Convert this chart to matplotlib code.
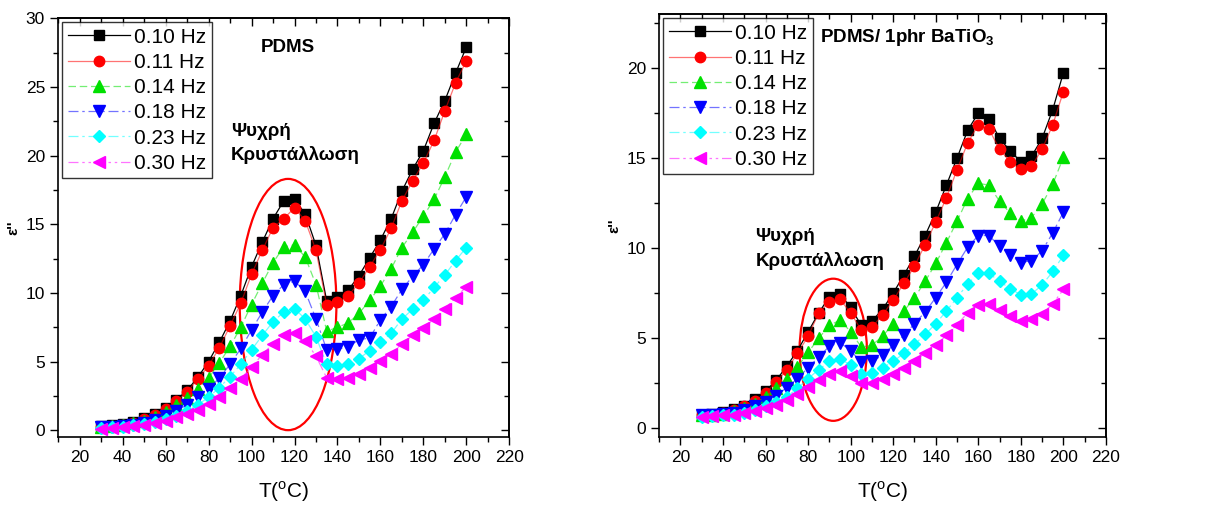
import matplotlib.pyplot as plt
from matplotlib.patches import Ellipse
from matplotlib.ticker import MultipleLocator
from matplotlib.colors import to_rgba

plt.rcParams['font.family'] = ['Liberation Sans', 'DejaVu Sans']
plt.rcParams['mathtext.fontset'] = 'custom'
plt.rcParams['mathtext.rm'] = 'Liberation Sans'
plt.rcParams['mathtext.bf'] = 'Liberation Sans:bold'

# temperatures (°C)
T = [30, 35, 40, 45, 50, 55, 60, 65, 70, 75, 80, 85, 90, 95, 100, 105, 110, 115,
     120, 125, 130, 135, 140, 145, 150, 155, 160, 165, 170, 175, 180, 185, 190, 195, 200]

freq_labels = ['0.10 Hz', '0.11 Hz', '0.14 Hz', '0.18 Hz', '0.23 Hz', '0.30 Hz']

# PDMS
pdms_010 = [0.3, 0.35, 0.45, 0.6, 0.9, 1.2, 1.65, 2.2, 2.9, 3.85, 5.0, 6.4, 7.95, 9.8, 11.9, 13.7,
            15.4, 16.7, 16.8, 15.75, 13.45, 9.4, 9.7, 10.2, 11.25, 12.55, 13.85, 15.4, 17.4, 19.0,
            20.35, 22.35, 24.0, 26.0, 27.9]
pdms_011 = [0.25, 0.3, 0.4, 0.55, 0.8, 1.1, 1.55, 2.1, 2.8, 3.7, 4.7, 6.0, 7.6, 9.25, 11.35, 13.1,
            14.75, 15.4, 16.2, 15.25, 13.1, 9.1, 9.3, 9.8, 10.7, 11.9, 13.15, 14.7, 16.7, 18.15,
            19.45, 21.1, 23.25, 25.3, 26.9]
pdms_014 = [0.2, 0.3, 0.35, 0.5, 0.7, 0.95, 1.35, 1.8, 2.35, 3.0, 3.8, 4.9, 6.1, 7.5, 9.15, 10.7,
            12.2, 13.35, 13.5, 12.6, 10.6, 7.2, 7.5, 7.8, 8.5, 9.45, 10.5, 11.75, 13.3, 14.4,
            15.6, 16.8, 18.45, 20.25, 21.55]
pdms_018 = [0.2, 0.25, 0.3, 0.4, 0.55, 0.75, 1.0, 1.4, 1.85, 2.4, 3.0, 3.8, 4.8, 5.95, 7.3, 8.6,
            9.8, 10.6, 10.85, 10.1, 8.1, 5.85, 5.9, 6.05, 6.6, 6.7, 8.05, 9.0, 10.25, 11.2,
            12.05, 13.2, 14.3, 15.7, 17.0]
pdms_023 = [0.15, 0.2, 0.25, 0.35, 0.45, 0.6, 0.8, 1.05, 1.4, 1.85, 2.4, 3.1, 3.9, 4.8, 5.85, 6.9,
            7.9, 8.6, 8.85, 8.1, 6.8, 4.8, 4.65, 4.8, 5.2, 5.8, 6.4, 7.05, 8.1, 8.8,
            9.45, 10.4, 11.3, 12.35, 13.3]
pdms_030 = [0.1, 0.15, 0.2, 0.3, 0.4, 0.55, 0.7, 0.95, 1.2, 1.5, 1.9, 2.45, 3.1, 3.75, 4.6, 5.5,
            6.3, 6.95, 7.1, 6.5, 5.4, 3.8, 3.7, 3.8, 4.1, 4.55, 5.05, 5.55, 6.3, 6.9,
            7.45, 8.1, 8.85, 9.65, 10.45]

# PDMS / 1phr BaTiO3
bto_010 = [0.75, 0.8, 0.9, 1.05, 1.25, 1.6, 2.05, 2.65, 3.45, 4.3, 5.35, 6.4, 7.3, 7.45, 6.7, 5.7,
           5.95, 6.6, 7.5, 8.5, 9.55, 10.7, 12.0, 13.5, 15.0, 16.55, 17.5, 17.2, 16.1, 15.4,
           14.8, 15.1, 16.1, 17.7, 19.75]
bto_011 = [0.7, 0.75, 0.85, 1.0, 1.2, 1.5, 1.95, 2.55, 3.25, 4.15, 5.1, 6.4, 7.0, 7.15, 6.4, 5.45,
           5.6, 6.3, 7.1, 8.05, 9.0, 10.2, 11.45, 12.8, 14.35, 15.85, 16.85, 16.6, 15.5, 14.8,
           14.4, 14.55, 15.5, 16.85, 18.7]
bto_014 = [0.7, 0.75, 0.8, 0.95, 1.1, 1.35, 1.75, 2.2, 2.75, 3.4, 4.2, 5.0, 5.7, 6.0, 5.35, 4.5,
           4.6, 5.1, 5.8, 6.5, 7.25, 8.15, 9.15, 10.3, 11.5, 12.75, 13.6, 13.5, 12.6, 11.95,
           11.5, 11.7, 12.45, 13.55, 15.05]
bto_018 = [0.75, 0.75, 0.8, 0.85, 1.0, 1.2, 1.45, 1.8, 2.25, 2.75, 3.35, 3.95, 4.55, 4.75, 4.3, 3.65,
           3.7, 4.05, 4.6, 5.15, 5.8, 6.45, 7.25, 8.1, 9.1, 10.05, 10.7, 10.7, 10.1, 9.6,
           9.2, 9.3, 9.85, 10.85, 12.0]
bto_023 = [0.6, 0.65, 0.7, 0.75, 0.85, 1.0, 1.2, 1.45, 1.75, 2.2, 2.75, 3.25, 3.7, 3.85, 3.5, 3.0,
           3.05, 3.35, 3.7, 4.15, 4.65, 5.2, 5.8, 6.5, 7.25, 8.0, 8.6, 8.6, 8.15, 7.75,
           7.4, 7.45, 7.95, 8.7, 9.6]
bto_030 = [0.6, 0.65, 0.7, 0.75, 0.85, 0.95, 1.1, 1.3, 1.55, 1.9, 2.3, 2.65, 3.0, 3.15, 2.9, 2.5,
           2.5, 2.7, 3.0, 3.35, 3.75, 4.15, 4.6, 5.15, 5.75, 6.4, 6.85, 6.9, 6.55, 6.2,
           5.95, 6.05, 6.35, 6.9, 7.7]

colors = ['#000000', '#FF0000', '#00E000', '#0000FF', '#00FFFF', '#FF00FF']
markers = ['s', 'o', '^', 'v', 'D', '<']
msizes = [6.5, 7.5, 8.5, 8.5, 6.5, 8.5]
lstyles = ['-', '-', (0, (6, 3)), (0, (8, 3, 2, 3)), (0, (8, 3, 2, 3)), (0, (8, 3, 2, 3, 2, 3))]


def draw(ax, series, ylim, yticks, title, title_xy, note_xy, ell):
    for s, c, m, ms, ls, lab in zip(series, colors, markers, msizes, lstyles, freq_labels):
        ax.plot(T, s, color=to_rgba(c, 1.0 if c == '#000000' else 0.55), lw=0.9, ls=ls,
                marker=m, ms=ms, mfc=c, mec=c, label=lab)
    ax.set_xlim(10, 220)
    ax.set_ylim(*ylim)
    ax.xaxis.set_major_locator(MultipleLocator(20))
    ax.xaxis.set_minor_locator(MultipleLocator(10))
    ax.yaxis.set_major_locator(MultipleLocator(5))
    ax.yaxis.set_minor_locator(MultipleLocator(2.5))
    ax.set_yticks(yticks)
    ax.tick_params(which='both', direction='out', labelsize=12.5, top=False, right=False)
    ax.tick_params(which='major', length=6, width=1)
    ax.tick_params(which='minor', length=3.5, width=1)
    # mirrored ticks on top/right, pointing inward
    sec_x = ax.secondary_xaxis('top')
    sec_x.xaxis.set_major_locator(MultipleLocator(20))
    sec_x.xaxis.set_minor_locator(MultipleLocator(10))
    sec_x.tick_params(which='both', direction='in', labeltop=False)
    sec_x.tick_params(which='major', length=6, width=1)
    sec_x.tick_params(which='minor', length=3.5, width=1)
    sec_y = ax.secondary_yaxis('right')
    sec_y.yaxis.set_major_locator(MultipleLocator(5))
    sec_y.yaxis.set_minor_locator(MultipleLocator(2.5))
    sec_y.tick_params(which='both', direction='in', labelright=False)
    sec_y.tick_params(which='major', length=6, width=1)
    sec_y.tick_params(which='minor', length=3.5, width=1)
    for sp in ax.spines.values():
        sp.set_linewidth(1.2)
    for sp in list(sec_x.spines.values()) + list(sec_y.spines.values()):
        sp.set_linewidth(1.2)

    ax.set_xlabel('T($^{\\mathregular{o}}$C)', fontsize=15, labelpad=10)
    ax.set_ylabel("ε''", fontsize=11, fontweight='bold', labelpad=4)

    leg = ax.legend(loc='upper left', fontsize=15, frameon=True, fancybox=False,
                    edgecolor='black', borderpad=0.25, labelspacing=0.3, handlelength=3.0,
                    handletextpad=0.2, borderaxespad=0.2)
    leg.get_frame().set_linewidth(1.0)

    ax.text(title_xy[0], title_xy[1], title, fontsize=13.5, fontweight='bold',
            ha='left', va='center')
    ax.text(note_xy[0], note_xy[1], 'Ψυχρή\nΚρυστάλλωση', fontsize=13.5, fontweight='bold',
            ha='left', va='top', linespacing=1.45)
    ax.add_patch(Ellipse(ell[:2], ell[2], ell[3], fill=False, edgecolor='#FF0000', lw=1.6))


fig = plt.figure(figsize=(12.14, 5.07), dpi=100)
ax1 = fig.add_axes([0.048, 0.138, 0.3715, 0.826])
ax2 = fig.add_axes([0.543, 0.138, 0.368, 0.834])

draw(ax1, [pdms_010, pdms_011, pdms_014, pdms_018, pdms_023, pdms_030],
     (-0.5, 30), [0, 5, 10, 15, 20, 25, 30], 'PDMS', (104.5, 27.9), (90.3, 22.4),
     (117, 9.15, 45, 18.3))
draw(ax2, [bto_010, bto_011, bto_014, bto_018, bto_023, bto_030],
     (-0.5, 23), [0, 5, 10, 15, 20], 'PDMS/ 1phr BaTiO$_{\\mathregular{3}}$', (85.5, 21.7),
     (55.3, 11.1), (91.8, 4.35, 31.6, 7.9))

fig.savefig('out.png', dpi=100)
